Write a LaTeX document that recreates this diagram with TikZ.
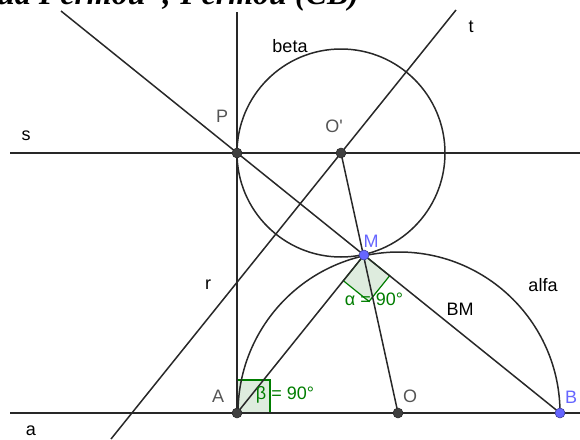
\documentclass[tikz,border=0pt]{standalone}
\usepackage{fontspec}
\setmainfont{Liberation Sans}[Ligatures=TeXOff]
\newfontfamily\titlefont{Liberation Serif}
\usetikzlibrary{calc}
\definecolor{ln}{RGB}{40,40,40}
\definecolor{ptdark}{RGB}{64,64,64}
\definecolor{ptblue}{RGB}{102,102,255}
\definecolor{ang}{RGB}{0,125,0}
\definecolor{angfill}{RGB}{222,236,222}
\definecolor{lblgray}{RGB}{85,85,85}
\begin{document}
\begin{tikzpicture}[x=1pt,y=-1pt,
  geo/.style={draw=ln,line width=1.5pt},
  pt/.style={circle,fill=ptdark,draw=black!85,line width=0.5pt,inner sep=0pt,minimum size=10pt},
  bpt/.style={circle,fill=ptblue,draw=ptblue!55!black,line width=0.5pt,inner sep=0pt,minimum size=10pt},
  lbl/.style={font=\fontsize{18}{20}\selectfont,inner sep=0pt,text=black},
  plbl/.style={lbl,text=lblgray},
  blbl/.style={lbl,text=ptblue},
  glbl/.style={lbl,text=ang},
  angsq/.style={draw=ang,fill=angfill,line width=1.2pt}]
\clip (0,0) rectangle (580,439);
% points
\coordinate (A) at (237,413);
\coordinate (O) at (398,413);
\coordinate (B) at (560,413);
\coordinate (M) at (364,255);
\coordinate (P) at (237,153);
\coordinate (Op) at (341,153);
% line ends
\coordinate (aL) at (10,413);
\coordinate (aR) at (580,413);
\coordinate (sL) at (10,153);
\coordinate (sR) at (580,153);
\coordinate (rT) at (237,12);
\coordinate (pbT) at (61,11);
\coordinate (tB) at (111,439);
\coordinate (tT) at (456,10);
% title
\node[anchor=base west,inner sep=0pt,font=\titlefont\bfseries\itshape\fontsize{32}{34}\selectfont] (title) at (-3,5) {ua Fermou”; Fermou (CB)};
% angle squares
\coordinate (ma) at ($(M)!33pt!(A)$);
\coordinate (mb) at ($(M)!33pt!(B)$);
\draw[angsq] (M) -- (ma) -- ($(ma)+(mb)-(M)$) -- (mb) -- cycle;
\draw[angsq] (A) rectangle ++(33,-33);
% lines
\draw[geo] (aL) -- (aR);
\draw[geo] (sL) -- (sR);
\draw[geo] (rT) -- (A);
\draw[geo] (pbT) -- (B);
\draw[geo] (tB) -- (tT);
\draw[geo] (A) -- (M);
\draw[geo] (Op) -- (O);
\draw[geo] (B) arc[start angle=0,end angle=-180,radius=161];
\draw[geo] (Op) circle[radius=104];
% labels
\node[lbl] (ls) at (26,136) {s};
\node[lbl] (la) at (31,431) {a};
\node[lbl] (lr) at (208,285) {r};
\node[lbl] (lt) at (471,27) {t};
\node[lbl] (lbeta) at (290,46) {beta};
\node[lbl] (lalfa) at (543,285) {alfa};
\node[lbl] (lBM) at (460,309) {BM};
\node[plbl] (lP) at (222,116) {P};
\node[plbl] (lOp) at (334,126) {O'};
\node[blbl] (lM) at (371,241) {M};
\node[plbl] (lA) at (218,396) {A};
\node[plbl] (lO) at (410,396) {O};
\node[blbl] (lB) at (571,397) {B};
\node[glbl] (lalpha) at (374,299) {α = 90°};
\node[glbl] (lbetaang) at (285,395) {β = 90°};
% point markers
\node[pt] (pA) at (A) {};
\node[pt] (pO) at (O) {};
\node[pt] (pP) at (P) {};
\node[pt] (pOp) at (Op) {};
\node[bpt] (pM) at (M) {};
\node[bpt] (pB) at (B) {};
\end{tikzpicture}
\end{document}
